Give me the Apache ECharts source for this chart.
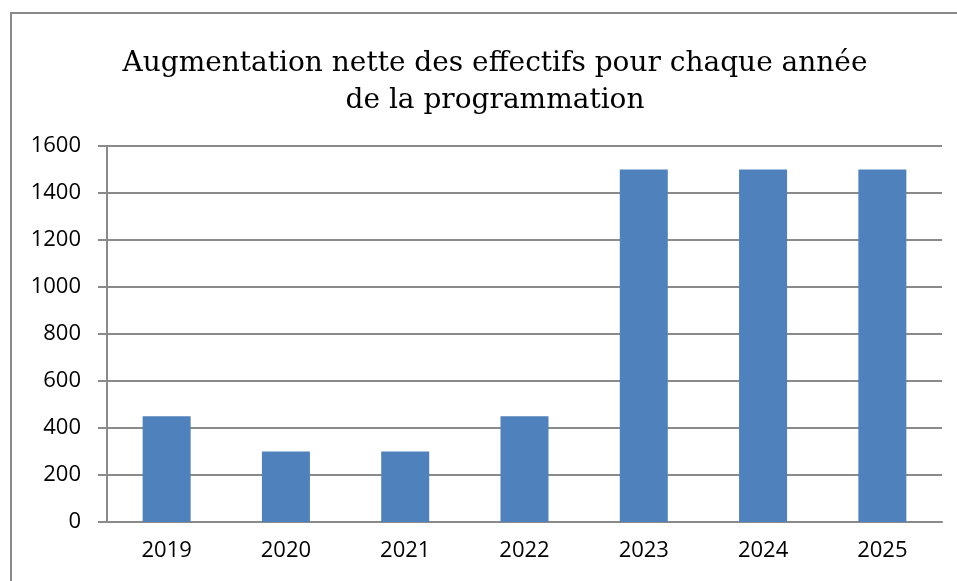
<!DOCTYPE html>
<html>
<head>
    <meta charset="utf-8">
    <title>Augmentation nette des effectifs</title>
    <script src="https://cdn.jsdelivr.net/npm/echarts@6/dist/echarts.min.js"></script>
    <style>
        html, body { margin: 0; padding: 0; background: #fff; }
        #chart { width: 957px; height: 581px; }
    </style>
</head>
<body>
    <div id="chart"></div>
    <script>
        // données
        const annees = ['2019', '2020', '2021', '2022', '2023', '2024', '2025'];
        const effectifs = [450, 300, 300, 450, 1500, 1500, 1500];

        const chart = echarts.init(document.getElementById('chart'));

        const option = {
            animation: false,
            title: {
                text: 'Augmentation nette des effectifs pour chaque année\nde la programmation',
                left: 490,
                top: 40,
                textAlign: 'center',
                textStyle: {
                    fontFamily: 'DejaVu Serif',
                    fontWeight: 'normal',
                    fontSize: 28,
                    lineHeight: 37,
                    color: '#000'
                }
            },
            // cadre gris autour du graphique
            graphic: [{
                type: 'rect',
                shape: { x: 11, y: 13, width: 980, height: 620 },
                style: { fill: 'none', stroke: '#8a8a8a', lineWidth: 2 },
                silent: true
            }],
            grid: { left: 107, right: 15, top: 146, bottom: 59 },
            xAxis: {
                type: 'category',
                data: annees,
                axisLine: { lineStyle: { color: '#8a8a8a', width: 2 } },
                axisTick: { length: 8, lineStyle: { color: '#8a8a8a', width: 2 } },
                axisLabel: { margin: 18, fontFamily: 'Open Sans', fontSize: 22, color: '#000' }
            },
            yAxis: {
                type: 'value',
                min: 0,
                max: 1600,
                interval: 200,
                axisLine: { show: true, lineStyle: { color: '#8a8a8a', width: 2 } },
                axisTick: { show: true, length: 9, lineStyle: { color: '#8a8a8a', width: 2 } },
                splitLine: { lineStyle: { color: '#8a8a8a', width: 2 } },
                axisLabel: {
                    margin: 26,
                    fontFamily: 'Open Sans',
                    fontSize: 22,
                    color: '#000',
                    formatter: function (v) { return String(v); }
                }
            },
            series: [{
                type: 'bar',
                data: effectifs,
                barWidth: 48,
                itemStyle: { color: '#4f81bd' }
            }]
        };
        chart.setOption(option);
    </script>
</body>
</html>
